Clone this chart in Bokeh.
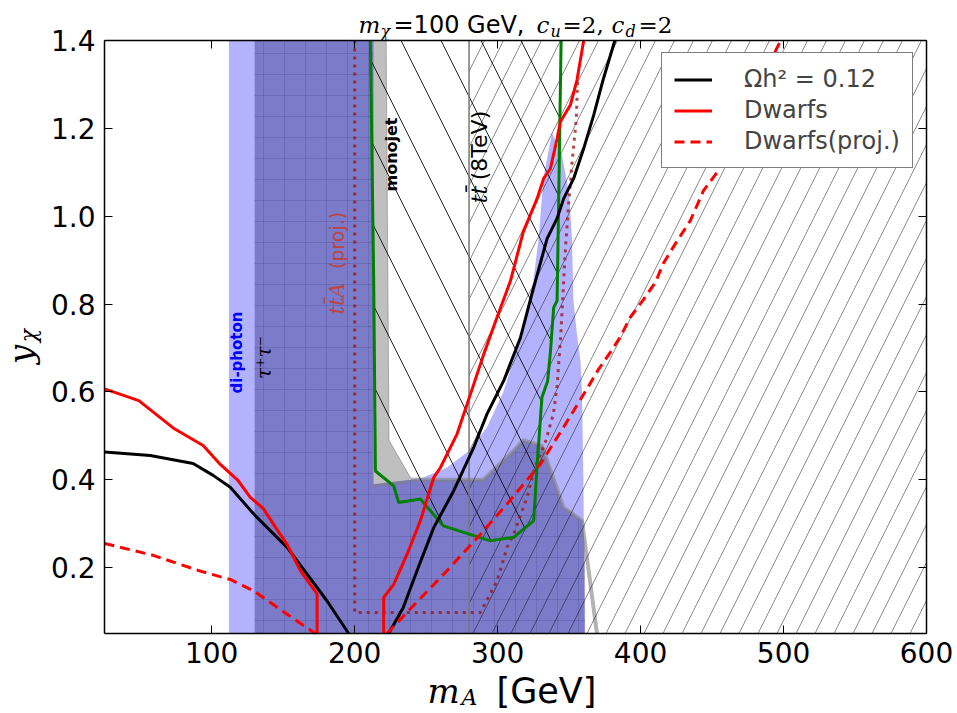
import math
from bokeh.plotting import figure
from bokeh.models import (Range1d, LinearAxis, FixedTicker, Label, Legend,
                          LegendItem, NumeralTickFormatter)
from bokeh.embed import file_html
from bokeh.resources import INLINE

# ---------------- data ----------------
X_LIM = (25, 600)
Y_LIM = (0.05, 1.4)
x_ticks = [100, 200, 300, 400, 500, 600]
y_ticks = [0.2, 0.4, 0.6, 0.8, 1.0, 1.2, 1.4]

# di-photon excluded region (light blue)
diphoton_m = [112, 112, 213, 213, 239, 248, 264.6, 280, 292.6, 304, 316, 325, 328.7, 332,
              338, 345, 350, 352, 353, 355.5, 358, 359, 360, 361]
diphoton_y = [0.05, 1.4, 1.4, 0.39, 0.40, 0.405, 0.428, 0.466, 0.52, 0.60, 0.724, 0.853, 0.95, 1.086,
              1.19, 1.14, 1.05, 0.95, 0.81, 0.73, 0.67, 0.6, 0.4, 0.05]

# tau tau excluded region (dark, gridded)
tautau_m = [130, 130, 213, 213, 239, 290, 310, 318, 331, 346, 359, 361, 361]
tautau_y = [0.05, 1.4, 1.4, 0.39, 0.40, 0.40, 0.462, 0.49, 0.477, 0.337, 0.307, 0.258, 0.05]

# grey band (edge of the excluded region)
grey_wedge_m = [213, 222, 224, 239, 236, 213]
grey_wedge_y = [1.4, 1.4, 0.49, 0.405, 0.392, 0.385]
grey_edge_m = [239, 290, 310, 318, 331, 346, 359, 369.5]
grey_edge_y = [0.40, 0.40, 0.462, 0.49, 0.477, 0.337, 0.307, 0.05]

# monojet limit (green)
monojet_m = [211, 213.3, 214.5, 227.3, 230.8, 246, 262, 295, 311.2, 325.2, 327.5, 331, 335, 337,
             339.2, 341.6, 342.7, 344.4]
monojet_y = [1.4, 0.853, 0.42, 0.386, 0.348, 0.356, 0.295, 0.261, 0.269, 0.307, 0.428, 0.588, 0.625,
             0.694, 0.792, 0.808, 1.036, 1.4]

# tt(8TeV) excluded region
tt8_left, tt8_right = [280], [600]

# ttA projection (dotted)
ttA_m = [200, 200, 288, 299.6, 306.6, 311.2, 320.6, 326, 333, 339, 341.5, 344, 345.5, 347.5, 349.5,
         352, 355, 356]
ttA_y = [1.4, 0.098, 0.098, 0.17, 0.246, 0.276, 0.36, 0.428, 0.481, 0.55, 0.61, 0.72, 0.81, 0.93,
         1.02, 1.12, 1.22, 1.31]

# relic density Omega h^2 = 0.12 (black)
relic_left_m = [25, 57, 87, 101, 113, 129.4, 152.7, 166.7, 180.7, 195.8]
relic_left_y = [0.463, 0.455, 0.437, 0.41, 0.383, 0.322, 0.246, 0.185, 0.124, 0.05]
relic_right_m = [223.8, 234, 243.6, 255.3, 269.3, 283.3, 292.6, 304.2, 316, 324, 334.6, 341.6, 346.2,
                 353.2, 360.2, 367.2, 374, 382]
relic_right_y = [0.05, 0.109, 0.193, 0.291, 0.375, 0.474, 0.55, 0.625, 0.724, 0.823, 0.949, 0.995, 1.04,
                 1.086, 1.154, 1.23, 1.313, 1.4]

# dwarfs (red solid)
dwarf_left_m = [25, 49, 73, 94, 106, 118, 127, 136, 145, 152.7, 162, 173.7, 173.7]
dwarf_left_y = [0.607, 0.58, 0.518, 0.478, 0.435, 0.40, 0.36, 0.335, 0.29, 0.253, 0.193, 0.14, 0.05]
dwarf_right_m = [220.3, 220.3, 227.3, 236.6, 246, 255.3, 260, 271.6, 281, 290.3, 299.6, 309, 318, 327.6,
                 332.2, 336.9, 341.6, 343.9, 350.9, 355.5, 360.2]
dwarf_right_y = [0.05, 0.132, 0.162, 0.23, 0.307, 0.405, 0.428, 0.504, 0.595, 0.686, 0.77, 0.853, 0.965,
                 1.04, 1.086, 1.108, 1.177, 1.215, 1.253, 1.31, 1.4]

# dwarfs projected (red dashed)
dwarfp_left_m = [25, 59, 92, 113, 129.4, 152.7, 172.5]
dwarfp_left_y = [0.255, 0.228, 0.192, 0.173, 0.147, 0.094, 0.05]
dwarfp_right_m = [222.6, 236.6, 264.6, 288, 306.6, 330, 346.2, 362.5, 370.7, 378.8, 385.8, 392.8, 402,
                  410.3, 416, 423.5, 434.8, 444, 453.5, 475, 498]
dwarfp_right_y = [0.05, 0.098, 0.193, 0.276, 0.345, 0.436, 0.52, 0.607, 0.652, 0.69, 0.725, 0.77, 0.81,
                  0.849, 0.893, 0.933, 0.99, 1.058, 1.10, 1.25, 1.4]

legend_labels = ["Ωh² = 0.12", "Dwarfs", "Dwarfs(proj.)"]

# ---------------- layout: the frame fills the canvas, axes are fixed at the data box ----------------
W, H = 957, 713
FL, FR, FT, FB = 104, 926, 40, 633          # pixel box of the data area
SX = (X_LIM[1] - X_LIM[0]) / (FR - FL)
SY = (Y_LIM[1] - Y_LIM[0]) / (FB - FT)
x_range = Range1d(X_LIM[0] - FL * SX, X_LIM[1] + (W - FR) * SX)
y_range = Range1d(Y_LIM[0] - (H - FB) * SY, Y_LIM[1] + FT * SY)


def dx(px):
    return X_LIM[0] + (px - FL) * SX


def dy(py):
    return Y_LIM[1] - (py - FT) * SY


p = figure(width=W, height=H, x_range=x_range, y_range=y_range,
           output_backend="svg", toolbar_location=None, title=None, min_border=0)
p.xgrid.visible = False
p.ygrid.visible = False
p.outline_line_color = None
p.background_fill_color = "white"
p.border_fill_color = "white"


def style_axis(ax, ticks, loc, bounds, labels=True):
    ax.ticker = FixedTicker(ticks=ticks)
    ax.fixed_location = loc
    ax.bounds = bounds
    ax.major_tick_in = 8
    ax.major_tick_out = 0
    ax.minor_tick_line_color = None
    ax.axis_line_width = 1.5
    ax.axis_line_color = "black"
    ax.major_tick_line_color = "black"
    ax.major_tick_line_width = 1
    ax.major_label_text_font = "DejaVu Sans"
    ax.major_label_text_font_size = "28px"
    ax.major_label_text_color = "black" if labels else None


style_axis(p.xaxis[0], x_ticks, Y_LIM[0], X_LIM)
style_axis(p.yaxis[0], y_ticks, X_LIM[0], Y_LIM)
p.xaxis[0].major_label_standoff = 8
p.yaxis[0].major_label_standoff = 9
p.yaxis[0].formatter = NumeralTickFormatter(format="0.0")
ax_r = LinearAxis()
style_axis(ax_r, y_ticks, X_LIM[1], Y_LIM, labels=False)
p.add_layout(ax_r, "right")
ax_t = LinearAxis()
style_axis(ax_t, x_ticks, Y_LIM[1], X_LIM, labels=False)
p.add_layout(ax_t, "above")

# ---------------- regions ----------------
p.patch(diphoton_m, diphoton_y, fill_color="blue", fill_alpha=0.3, line_color=None)
p.patch(tautau_m, tautau_y, fill_color="#000050", fill_alpha=0.31, line_color=None,
        hatch_pattern="+", hatch_scale=21, hatch_color="#000040", hatch_alpha=0.12, hatch_weight=1)
p.patch(grey_wedge_m, grey_wedge_y, fill_color="gray", fill_alpha=0.5,
        line_color="gray", line_alpha=0.6, line_width=1)
p.line(grey_edge_m, grey_edge_y, line_color="gray", line_alpha=0.6, line_width=4)

# hatches
p.patch(monojet_m, monojet_y, fill_color=None, line_color=None,
        hatch_pattern="\\", hatch_scale=80, hatch_color="black", hatch_alpha=0.85, hatch_weight=1)
p.quad(left=tt8_left, right=tt8_right, bottom=[Y_LIM[0]], top=[Y_LIM[1]], fill_color=None,
       line_color=None, hatch_pattern="/", hatch_scale=38, hatch_color="black", hatch_alpha=0.45,
       hatch_weight=1)
p.line([tt8_left[0], tt8_left[0]], list(Y_LIM), line_color="#777777", line_width=1.5)

# lines
p.line(ttA_m, ttA_y, line_color="#a01818", line_alpha=0.8, line_width=3, line_dash="3 5")
p.line(monojet_m, monojet_y, line_color="#008000", line_width=3)
p.line(relic_left_m, relic_left_y, line_color="black", line_width=3)
r_relic = p.line(relic_right_m, relic_right_y, line_color="black", line_width=3)
p.line(dwarf_left_m, dwarf_left_y, line_color="red", line_width=3)
r_dwarf = p.line(dwarf_right_m, dwarf_right_y, line_color="red", line_width=3)
p.line(dwarfp_left_m, dwarfp_left_y, line_color="red", line_width=3, line_dash="10 6")
r_dwarfp = p.line(dwarfp_right_m, dwarfp_right_y, line_color="red", line_width=3, line_dash="10 6")


# ---------------- texts ----------------
def lab(text, px, py, size, color="black", font="DejaVu Sans", style="normal", angle=0.0,
        align="center", baseline="middle"):
    p.add_layout(Label(x=dx(px), y=dy(py), text=text, angle=angle, text_font=font,
                       text_font_size=f"{size}px", text_color=color, text_font_style=style,
                       text_align=align, text_baseline=baseline))


V = math.pi / 2
lab("di-photon", 236, 352, 15, color="blue", style="bold", angle=V)
lab("τ⁺τ⁻", 263, 357, 20, font="DejaVu Serif", style="italic", angle=V)
lab("monojet", 391, 154, 16, style="bold", angle=V)
lab("(8TeV)", 479, 145, 22, angle=V)
lab("tt̄", 479, 194, 22, font="DejaVu Serif", style="italic", angle=V)
lab("(proj.)", 336, 240, 19, color="#bb4444", angle=V)
lab("tt̄A", 336, 298, 21, color="#bb4444", font="DejaVu Serif", style="italic", angle=V)

# title (pieces: text, left px, middle py, size, font, style)
for t, x0, ym, s, f, st in [
    ("m", 358, 24, 23, "DejaVu Serif", "italic"),
    ("χ", 380, 31, 16, "DejaVu Serif", "italic"),
    ("=100 GeV,", 393, 24, 24, "DejaVu Sans", "normal"),
    ("c", 536, 24, 23, "DejaVu Serif", "italic"),
    ("u", 550, 31, 16, "DejaVu Serif", "italic"),
    ("=2,", 562, 24, 23, "DejaVu Serif", "normal"),
    ("c", 611, 24, 23, "DejaVu Serif", "italic"),
    ("d", 625, 31, 16, "DejaVu Serif", "italic"),
    ("=2", 638, 24, 23, "DejaVu Serif", "normal"),
]:
    lab(t, x0, ym, s, font=f, style=st, align="left")

# x axis label
lab("m", 427, 690, 34, font="DejaVu Serif", style="italic", align="left")
lab("A", 461, 697, 22, font="DejaVu Serif", style="italic", align="left")
lab("[GeV]", 496, 690, 35, align="left")

# y axis label
lab("y", 20, 354, 34, font="DejaVu Serif", style="italic", angle=V)
lab("χ", 28, 335, 22, font="DejaVu Serif", style="italic", angle=V)

# ---------------- legend ----------------
legend = Legend(items=[LegendItem(label=legend_labels[0], renderers=[r_relic]),
                       LegendItem(label=legend_labels[1], renderers=[r_dwarf]),
                       LegendItem(label=legend_labels[2], renderers=[r_dwarfp])],
                location=(661, H - 168))
legend.label_text_font = "DejaVu Sans"
legend.label_text_font_size = "24px"
legend.glyph_width = 38
legend.glyph_height = 27
legend.label_height = 27
legend.label_standoff = 32
legend.padding = 12
legend.spacing = 3
legend.margin = 0
legend.border_line_color = "black"
legend.border_line_width = 1.5
legend.background_fill_alpha = 1.0
p.add_layout(legend, "center")

open("out.html", "w").write(file_html(p, INLINE))
